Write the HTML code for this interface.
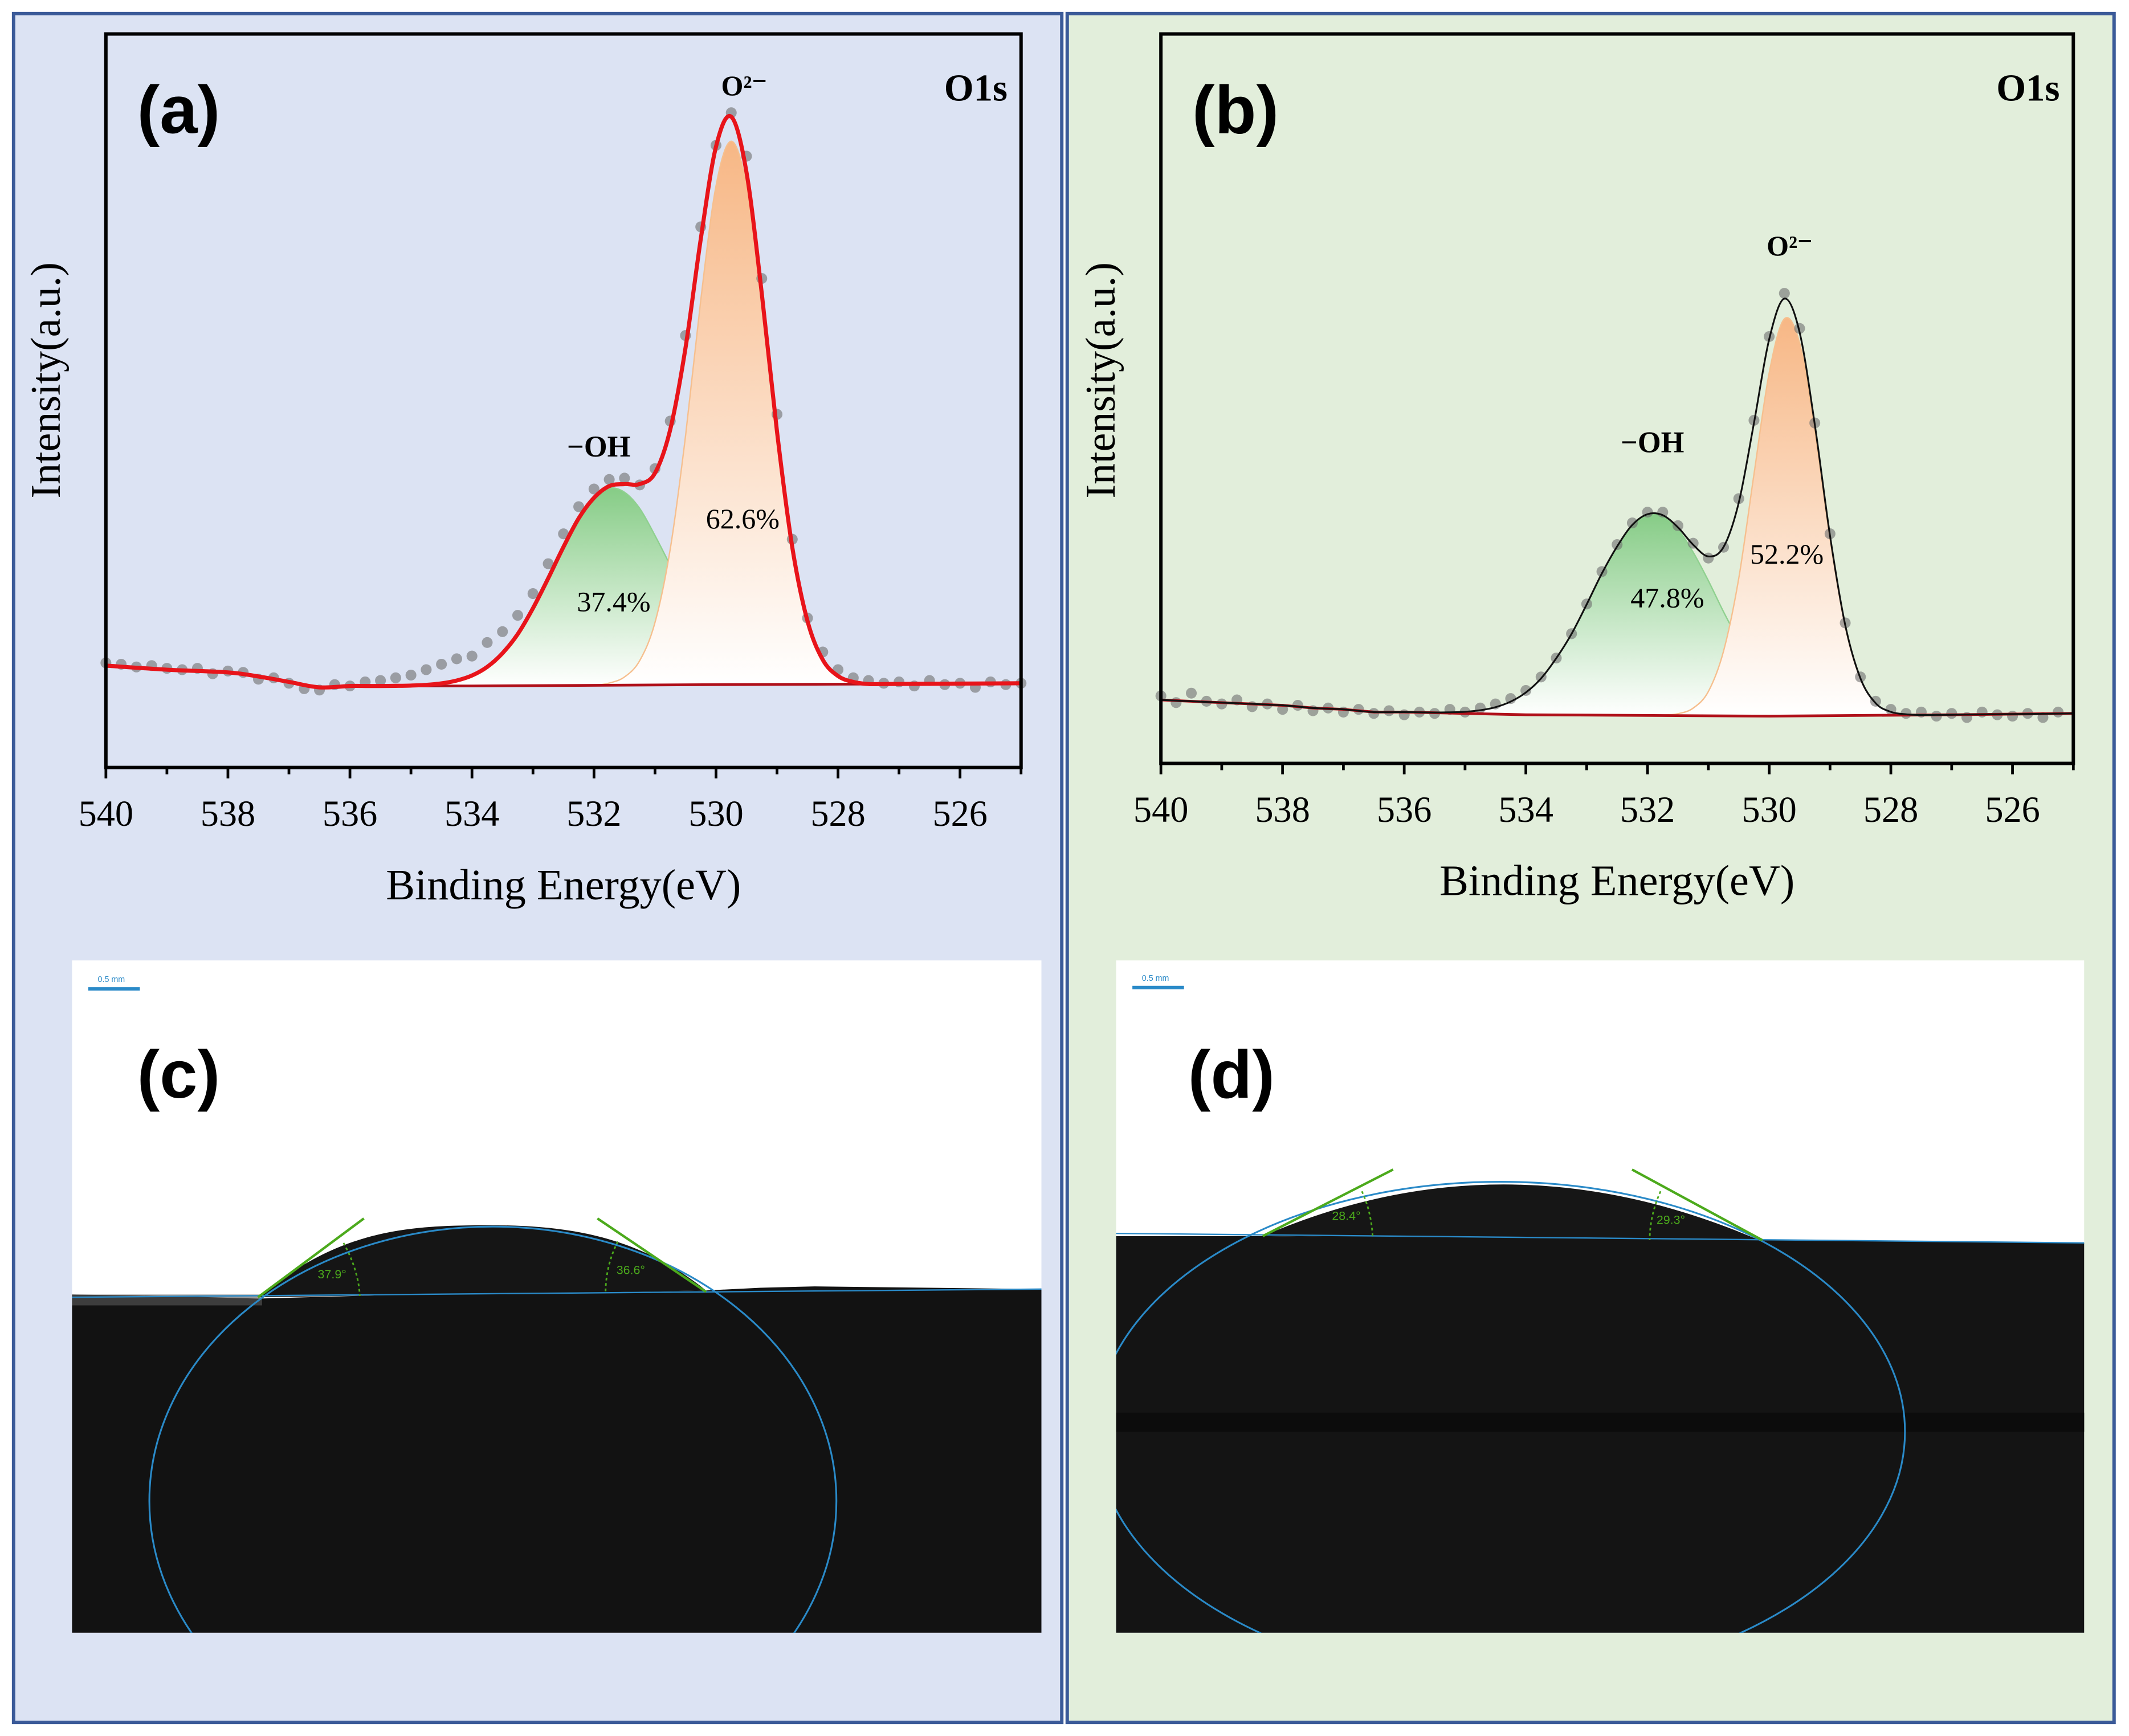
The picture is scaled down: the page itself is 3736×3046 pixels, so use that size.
<!DOCTYPE html>
<html><head><meta charset="utf-8"><style>
html,body{margin:0;padding:0;background:#fff;}
svg{display:block;}
text{font-family:"Liberation Serif",serif;}
.sans{font-family:"Liberation Sans",sans-serif;}
</style></head>
<body>
<svg id="fig" width="3736" height="3046" viewBox="0 0 1568 1278" preserveAspectRatio="none" xmlns="http://www.w3.org/2000/svg">
<defs>
<linearGradient id="gGreen" x1="0" y1="0" x2="0" y2="1"><stop offset="0" stop-color="#86cc86"/><stop offset="1" stop-color="#ffffff"/></linearGradient>
<linearGradient id="gOrange" x1="0" y1="0" x2="0" y2="1"><stop offset="0" stop-color="#f7b785"/><stop offset="1" stop-color="#ffffff"/></linearGradient>
<clipPath id="clipC"><rect x="53" y="707" width="714" height="495"/></clipPath>
<clipPath id="clipD"><rect x="822" y="707" width="713" height="495"/></clipPath>
</defs>
<rect x="0" y="0" width="1568" height="1278" fill="#ffffff"/>
<rect x="10" y="10" width="772" height="1258" fill="#dce3f3" stroke="#3b5a98" stroke-width="2.5"/>
<rect x="786" y="10" width="771" height="1258" fill="#e2eedb" stroke="#3b5a98" stroke-width="2.5"/>
<g id="chartA"></g>
<g id="chartB"></g>

<g clip-path="url(#clipC)">
<rect x="53" y="707" width="714" height="495" fill="#ffffff"/>
<polygon points="53,953 120,954 190,956 300,953 520,950 560,948 600,947 767,949 767,1202 53,1202" fill="#121212"/>
<rect x="53" y="953" width="140" height="8" fill="#5a5a5a" opacity="0.6"/>
<path d="M190,955 C250,905 300,902 360,902 C420,902 470,910 520,950 Z" fill="#151515"/>
<ellipse cx="363" cy="1105" rx="253" ry="202" fill="none" stroke="#2a8ac8" stroke-width="1.3"/>
<line x1="53" y1="955" x2="767" y2="949" stroke="#2a8ac8" stroke-width="1"/>
<line x1="190" y1="955" x2="268" y2="897" stroke="#4caa1c" stroke-width="1.8"/>
<line x1="520" y1="951" x2="440" y2="897" stroke="#4caa1c" stroke-width="1.8"/>
<path d="M253,915 Q264,935 265,954" fill="none" stroke="#4caa1c" stroke-width="1.2" stroke-dasharray="2,2"/>
<path d="M455,914 Q446,932 446,952" fill="none" stroke="#4caa1c" stroke-width="1.2" stroke-dasharray="2,2"/>
<text class="sans" x="234" y="941" font-size="9" fill="#4caa1c">37.9°</text>
<text class="sans" x="454" y="938" font-size="9" fill="#4caa1c">36.6°</text>
<line x1="65" y1="728" x2="103" y2="728" stroke="#2a8ac8" stroke-width="2.5"/>
<text class="sans" x="72" y="723" font-size="6" fill="#2a8ac8">0.5 mm</text>
<text class="sans" x="101" y="808" font-size="50" font-weight="bold" fill="#000">(c)</text>
</g>

<g clip-path="url(#clipD)">
<rect x="822" y="707" width="713" height="495" fill="#ffffff"/>
<polygon points="822,910 930,910 1298,913 1535,915 1535,1202 822,1202" fill="#141414"/>
<rect x="822" y="1040" width="713" height="14" fill="#0c0c0c"/>
<path d="M930,910 Q1110,832 1298,914 Z" fill="#161616"/>
<ellipse cx="1105" cy="1054" rx="298" ry="184" fill="none" stroke="#2a8ac8" stroke-width="1.3"/>
<line x1="822" y1="908" x2="1535" y2="915" stroke="#2a8ac8" stroke-width="1"/>
<line x1="930" y1="910" x2="1026" y2="861" stroke="#4caa1c" stroke-width="1.8"/>
<line x1="1298" y1="913" x2="1202" y2="861" stroke="#4caa1c" stroke-width="1.8"/>
<path d="M1003,877 Q1010,892 1011,911" fill="none" stroke="#4caa1c" stroke-width="1.2" stroke-dasharray="2,2"/>
<path d="M1223,877 Q1215,895 1215,913" fill="none" stroke="#4caa1c" stroke-width="1.2" stroke-dasharray="2,2"/>
<text class="sans" x="981" y="898" font-size="9" fill="#4caa1c">28.4°</text>
<text class="sans" x="1220" y="901" font-size="9" fill="#4caa1c">29.3°</text>
<line x1="834" y1="727" x2="872" y2="727" stroke="#2a8ac8" stroke-width="2.5"/>
<text class="sans" x="841" y="722" font-size="6" fill="#2a8ac8">0.5 mm</text>
<text class="sans" x="875" y="808" font-size="50" font-weight="bold" fill="#000">(d)</text>
</g>
</svg>
<script>
// ---------- data (intensity in arbitrary units) ----------
const compE = [536,535.75,535.5,535.25,535,534.75,534.5,534.25,534,533.75,533.5,533.25,533,532.75,532.5,532.25,532,531.75,531.5,531.25,531,530.75,530.5,530.25,530,529.75,529.5,529.25,529,528.75,528.5,528.25,528,527.75,527.5,527.25,527];
const ohA = [0,0,0,0.1,0.3,0.8,1.9,4,7.7,14,24,38,57,79,102,123,138,145,142,130,110,88,65,45,29,18,10,5,3,1,0.5,0,0,0,0,0,0];
const o2A = [0,0,0,0,0,0,0,0,0,0,0,0,0,0,0,0,0,1.6,6,18,46,100,183,283,367,400,367,283,183,100,46,18,6,1.6,0,0,0];
const ohB = [0,0.1,0.2,0.6,1.2,2.6,5.1,9.5,16.5,27,42,60,82,105,125,141,149,148,138,121,100,77,56,38,25,15,8,4.5,2.2,1,0.5,0,0,0,0,0,0];
const o2B = [0,0,0,0,0,0,0,0,0,0,0,0,0,0,0,0,0,0.3,1.4,5.6,18,48,102,179,254,294,276,211,131,66,27,9,2.5,0.6,0,0,0];
const baseE = [540,539,538,537.5,537,536.5,536,534,530,527,525];
const baseA = [75,72,70,67,63,59,60,60,61,61.5,62];
const baseB = [47,45,43,41,40,38,38,36,35,36,37];
const rawE = [540,539.75,539.5,539.25,539,538.75,538.5,538.25,538,537.75,537.5,537.25,537,536.75,536.5,536.25,536,535.75,535.5,535.25,535,534.75,534.5,534.25,534,533.75,533.5,533.25,533,532.75,532.5,532.25,532,531.75,531.5,531.25,531,530.75,530.5,530.25,530,529.75,529.5,529.25,529,528.75,528.5,528.25,528,527.75,527.5,527.25,527,526.75,526.5,526.25,526,525.75,525.5,525.25,525];
const rawA = [77,76,74,75,73,72,73,69,71,70,65,66,62,58,57,61,60,63,64,66,68,72,76,80,82,92,100,112,128,150,172,192,205,212,213,208,220,255,318,398,458,482,450,360,260,168,110,85,72,66,64,62,63,60,64,61,62,59,63,61,62];
const rawB = [50,45,52,46,44,47,42,44,40,43,39,41,38,40,37,39,36,38,37,40,38,41,44,48,54,64,78,96,118,142,162,178,186,186,176,163,152,160,196,254,316,348,322,252,170,104,64,46,40,37,38,35,37,34,38,36,35,37,34,38,null];
const xTicks = [540,538,536,534,532,530,528,526];
const xMinor = [539,537,535,533,531,529,527,525];

const NS = "http://www.w3.org/2000/svg";
function mk(parent, tag, attrs){const e=document.createElementNS(NS,tag);for(const k in attrs)e.setAttribute(k,attrs[k]);parent.appendChild(e);return e;}
function interp(xs, ys, x){
  for(let i=0;i<xs.length-1;i++){ if(x<=xs[i] && x>=xs[i+1]){const t=(xs[i]-x)/(xs[i]-xs[i+1]);return ys[i]+t*(ys[i+1]-ys[i]);} }
  return x>xs[0]?ys[0]:ys[ys.length-1];
}
function smooth(pts){
  let d="M"+pts[0][0].toFixed(2)+","+pts[0][1].toFixed(2);
  for(let i=0;i<pts.length-1;i++){
    const p0=pts[i-1]||pts[i],p1=pts[i],p2=pts[i+1],p3=pts[i+2]||p2;
    const c1=[p1[0]+(p2[0]-p0[0])/6,p1[1]+(p2[1]-p0[1])/6];
    const c2=[p2[0]-(p3[0]-p1[0])/6,p2[1]-(p3[1]-p1[1])/6];
    d+="C"+c1[0].toFixed(2)+","+c1[1].toFixed(2)+" "+c2[0].toFixed(2)+","+c2[1].toFixed(2)+" "+p2[0].toFixed(2)+","+p2[1].toFixed(2);
  }
  return d;
}

function drawChart(gid, cfg){
  const g=document.getElementById(gid);
  const L=cfg.L,R=cfg.R,T=cfg.T,B=cfg.B;
  const xs=e=>L+(540-e)/15*(R-L);
  const ys=v=>B-v/540*(B-T);
  const base=cfg.base, oh=cfg.oh, o2=cfg.o2, raw=cfg.raw;
  const bl=e=>interp(baseE,base,e);
  const ohPts=compE.map((e,i)=>[xs(e),ys(bl(e)+oh[i])]);
  const o2Pts=compE.map((e,i)=>[xs(e),ys(bl(e)+o2[i])]);
  const blPts=compE.map(e=>[xs(e),ys(bl(e))]);
  const blRev=blPts.slice().reverse().map(p=>"L"+p[0].toFixed(2)+","+p[1].toFixed(2)).join("");
  const fOH=mk(g,"path",{d:smooth(ohPts)+blRev+"Z",fill:"url(#gGreen)",stroke:"none"});
  
  
  mk(g,"path",{d:smooth(ohPts),fill:"none",stroke:"#8fd08f","stroke-width":1});
  const fO2=mk(g,"path",{d:smooth(o2Pts)+blRev+"Z",fill:"url(#gOrange)",stroke:"none"});
  
  
  mk(g,"path",{d:smooth(o2Pts),fill:"none",stroke:"#f6bf8e","stroke-width":1});
  rawE.forEach((e,i)=>{ if(raw[i]==null) return;
    const c=mk(g,"circle",{cx:xs(e),cy:ys(raw[i]),r:4,fill:"#6e6e6e","fill-opacity":0.6});
    
    
  });
  const bFull=baseE.map((e,i)=>[xs(e),ys(base[i])]);
  const bp=mk(g,"path",{d:"M"+bFull.map(p=>p[0]+","+p[1]).join("L"),fill:"none",stroke:"#b0101a","stroke-width":2});
  
  
  const envE=[540,539,538,537.5,537,536.5].concat(compE).concat([526.5,526,525.5,525]);
  const envPts=envE.map(e=>{const i=compE.indexOf(e);return [xs(e),ys(bl(e)+(i>=0?oh[i]+o2[i]:0))];});
  const env=mk(g,"path",{d:smooth(envPts),fill:"none",stroke:cfg.envColor,"stroke-width":cfg.envW});
  
  
  const fr=mk(g,"rect",{x:L,y:T,width:R-L,height:B-T,fill:"none",stroke:"#000","stroke-width":2.5});
  
  
  xTicks.forEach(t=>{
    mk(g,"line",{x1:xs(t),x2:xs(t),y1:B,y2:B+8,stroke:"#000","stroke-width":2});
    const tx=mk(g,"text",{x:xs(t),y:B+43,"font-size":27,"text-anchor":"middle",fill:"#000"});
    tx.textContent=t;
    
    
  });
  xMinor.forEach(t=>{ mk(g,"line",{x1:xs(t),x2:xs(t),y1:B,y2:B+5,stroke:"#000","stroke-width":2}); });
  const xt=mk(g,"text",{x:(L+R)/2,y:B+97,"font-size":32,"text-anchor":"middle",fill:"#000"});
  xt.textContent="Binding Energy(eV)";
  
  
  const yt=mk(g,"text",{x:0,y:0,"font-size":31,"text-anchor":"middle",fill:"#000",transform:"translate("+(L-34)+",280) rotate(-90)"});
  yt.textContent="Intensity(a.u.)";
  
  
  const lab=mk(g,"text",{x:L+23,y:98,"font-size":50,"font-weight":"bold",fill:"#000"});
  lab.setAttribute('class','sans');
  lab.textContent=cfg.label;
  
  
  const o1=mk(g,"text",{x:R-10,y:74,"font-size":28,"font-weight":"bold","text-anchor":"end",fill:"#000"});
  o1.textContent="O1s";
  
  
  cfg.annots.forEach(a=>{
    const t=mk(g,"text",{x:a[0],y:a[1],"font-size":a[3],"font-weight":a[4],"text-anchor":"middle",fill:"#000"});
    t.textContent=a[2];
    
    
  });
}
drawChart("chartA",{L:78,R:752,T:25,B:565,base:baseA,oh:ohA,o2:o2A,raw:rawA,envColor:"#e8141a",envW:3,label:"(a)",
  annots:[[548,70,"O²⁻",21,"bold","o2-peak-label"],[441,336,"−OH",22,"bold","oh-peak-label"],[547,389,"62.6%",21,"normal","o2-percent"],[452,450,"37.4%",21,"normal","oh-percent"]]});
drawChart("chartB",{L:855,R:1527,T:25,B:562,base:baseB,oh:ohB,o2:o2B,raw:rawB,envColor:"#111",envW:1.3,label:"(b)",
  annots:[[1318,188,"O²⁻",21,"bold","o2-peak-label"],[1217,333,"−OH",22,"bold","oh-peak-label"],[1316,415,"52.2%",21,"normal","o2-percent"],[1228,447,"47.8%",21,"normal","oh-percent"]]});
</script>
</body></html>
